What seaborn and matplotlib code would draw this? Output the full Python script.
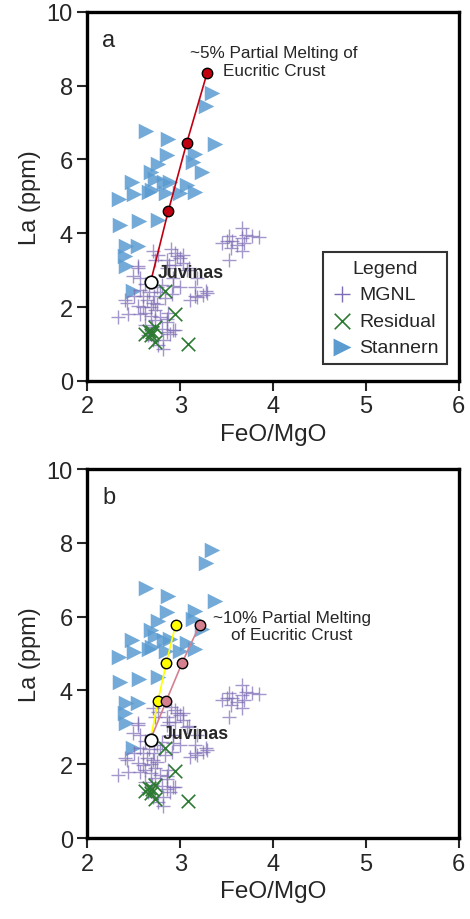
import matplotlib
matplotlib.use("Agg")
import matplotlib.pyplot as plt
import pandas as pd
import seaborn as sns

sns.set_style("ticks")
plt.rcParams["font.family"] = ["Liberation Sans", "DejaVu Sans"]

# MGNL (main-group noritic... ) samples
mgnl_feo = [3.67, 3.71, 3.66, 3.53, 3.50, 3.56, 3.77, 3.85, 3.69, 3.61, 3.55, 3.67, 3.53, 3.45,
            2.71, 2.94, 3.00, 2.86, 2.73, 2.54, 3.03, 3.07, 2.86, 2.49, 2.57, 2.92, 3.18, 3.16,
            3.29, 3.16, 2.92, 3.00, 2.75, 2.57, 2.43, 2.55, 2.64, 2.75, 2.33, 2.44, 2.57, 2.68,
            2.78, 2.73, 2.86, 2.62, 2.70, 2.80, 2.92, 2.89, 2.81, 2.76, 2.81, 2.65, 3.10, 3.18,
            2.91, 2.41, 2.60, 2.71, 2.62, 2.73, 2.87, 2.86, 2.94, 2.86, 2.71, 3.03, 2.94, 3.09,
            3.25, 3.28, 2.90, 2.97, 2.76, 2.88, 2.54, 2.62, 2.66, 2.72, 2.80, 2.84, 2.60, 2.50,
            2.68, 2.78]
mgnl_la = [4.14, 3.95, 3.87, 3.92, 3.79, 3.79, 3.92, 3.90, 3.74, 3.68, 3.60, 3.52, 3.28, 3.74,
           3.52, 3.47, 3.33, 3.28, 3.28, 3.06, 3.20, 3.01, 3.06, 2.85, 2.80, 2.80, 2.80, 2.53,
           2.39, 2.31, 2.58, 2.53, 2.53, 2.45, 2.12, 2.04, 2.18, 2.07, 1.72, 1.80, 1.80, 1.77,
           1.72, 1.64, 1.59, 1.51, 1.45, 1.40, 1.37, 1.26, 1.10, 0.97, 0.86, 1.24, 2.20, 2.26,
           2.34, 2.18, 1.99, 2.12, 1.85, 1.91, 1.85, 1.67, 1.37, 1.32, 1.10, 3.40, 3.14, 3.05,
           2.33, 2.44, 3.56, 3.38, 3.42, 3.15, 3.11, 2.62, 2.40, 2.30, 2.60, 2.25, 2.30, 2.30,
           2.00, 2.40]

residual_feo = [2.84, 2.94, 2.66, 2.73, 2.62, 2.68, 2.70, 2.73, 3.08]
residual_la = [2.44, 1.81, 1.36, 1.45, 1.27, 1.23, 1.32, 1.05, 1.00]

stannern_feo = [3.34, 3.28, 2.63, 2.87, 3.37, 3.16, 2.86, 2.76, 3.14, 3.23, 2.69, 2.48, 2.73,
                2.89, 3.07, 3.16, 2.34, 2.50, 2.66, 2.70, 2.83, 3.00, 2.85, 2.35, 2.56, 2.76,
                2.42, 2.54, 2.40, 2.42, 2.49]
stannern_la = [7.80, 7.45, 6.78, 6.56, 6.42, 6.16, 6.12, 5.89, 5.93, 5.66, 5.65, 5.38, 5.48,
               5.40, 5.30, 5.13, 4.92, 5.05, 5.13, 5.17, 5.38, 5.08, 5.08, 4.23, 4.32, 4.36,
               3.65, 3.65, 3.38, 3.11, 2.44]

juvinas = (2.68, 2.67)

# partial melting trends
melt5_feo = [2.68, 2.87, 3.07, 3.29]
melt5_la = [2.67, 4.59, 6.45, 8.35]
melt10y_feo = [2.68, 2.76, 2.85, 2.95]
melt10y_la = [2.67, 3.72, 4.75, 5.78]
melt10p_feo = [2.68, 2.85, 3.02, 3.21]
melt10p_la = [2.67, 3.72, 4.75, 5.78]

mgnl = pd.DataFrame({"FeO/MgO": mgnl_feo, "La": mgnl_la})
resid = pd.DataFrame({"FeO/MgO": residual_feo, "La": residual_la})
stan = pd.DataFrame({"FeO/MgO": stannern_feo, "La": stannern_la})

BLUE = "#5b9bd0"
PURPLE = "#7d6bb5"
GREEN = "#2d7a32"


def draw_base(ax):
    sns.scatterplot(data=stan, x="FeO/MgO", y="La", ax=ax, marker=">", s=125,
                    color=BLUE, alpha=0.85, linewidth=0, label="Stannern", zorder=2)
    sns.scatterplot(data=mgnl, x="FeO/MgO", y="La", ax=ax, marker="+", s=95,
                    color=PURPLE, alpha=0.7, linewidth=1.0, label="MGNL", zorder=3)
    sns.scatterplot(data=resid, x="FeO/MgO", y="La", ax=ax, marker="x", s=95,
                    color=GREEN, linewidth=1.2, label="Residual", zorder=4)


def draw_melt(ax, xs, ys, face, line):
    sns.lineplot(x=xs, y=ys, ax=ax, sort=False, color=line, linewidth=1.2, zorder=5)
    ax.plot(xs[1:], ys[1:], "o", ms=7.5, mfc=face, mec="black", mew=1.0, zorder=6)


def style_axes(ax, letter):
    ax.set_xlim(2, 6)
    ax.set_ylim(0, 10)
    ax.set_xticks([2, 3, 4, 5, 6])
    ax.set_yticks([0, 2, 4, 6, 8, 10])
    ax.set_xlabel("FeO/MgO", fontsize=17.5)
    ax.set_ylabel("La (ppm)", fontsize=17)
    ax.tick_params(labelsize=17, length=7, width=1.5, direction="out")
    for sp in ax.spines.values():
        sp.set_visible(True)
        sp.set_linewidth(2.4)
        sp.set_color("black")
    ax.text(0.04, 0.925, letter, transform=ax.transAxes, fontsize=17,
            ha="left", va="center")
    ax.plot(*juvinas, "o", ms=9, mfc="white", mec="black", mew=1.2, zorder=7)


fig = plt.figure(figsize=(4.7, 9.2), dpi=100)
ax1 = fig.add_axes([0.186, 0.585, 0.79, 0.401])
ax2 = fig.add_axes([0.186, 0.088, 0.79, 0.401])

# panel a
draw_base(ax1)
draw_melt(ax1, melt5_feo, melt5_la, "#c00010", "#c00010")
style_axes(ax1, "a")
ax1.text(4.01, 8.66, "~5% Partial Melting of\nEucritic Crust", fontsize=12.3,
         ha="center", va="center")
ax1.text(2.76, 2.94, "Juvinas", fontsize=12.8, fontweight="bold", ha="left", va="center",
         zorder=8)
h, l = ax1.get_legend_handles_labels()
order = [l.index("MGNL"), l.index("Residual"), l.index("Stannern")]
leg = ax1.legend([h[i] for i in order], [l[i] for i in order], title="Legend",
                 loc="lower right", bbox_to_anchor=(0.968, 0.046), fontsize=14,
                 title_fontsize=14, frameon=True, fancybox=False, handletextpad=0.3,
                 handlelength=1.2, borderpad=0.4, labelspacing=0.45, borderaxespad=0,
                 markerscale=1.15)
leg.get_frame().set_edgecolor("black")
leg.get_frame().set_linewidth(1.5)
for lh in leg.legend_handles:
    lh.set_alpha(1)

# panel b
draw_base(ax2)
draw_melt(ax2, melt10y_feo, melt10y_la, "#ffff00", "#ffff00")
draw_melt(ax2, melt10p_feo, melt10p_la, "#d4808f", "#d4808f")
style_axes(ax2, "b")
ax2.text(4.2, 5.74, "~10% Partial Melting\nof Eucritic Crust", fontsize=12.3,
         ha="center", va="center")
ax2.text(2.81, 2.83, "Juvinas", fontsize=12.8, fontweight="bold", ha="left", va="center",
         zorder=8)
ax2.get_legend().remove()

fig.savefig("out.png", dpi=100)
